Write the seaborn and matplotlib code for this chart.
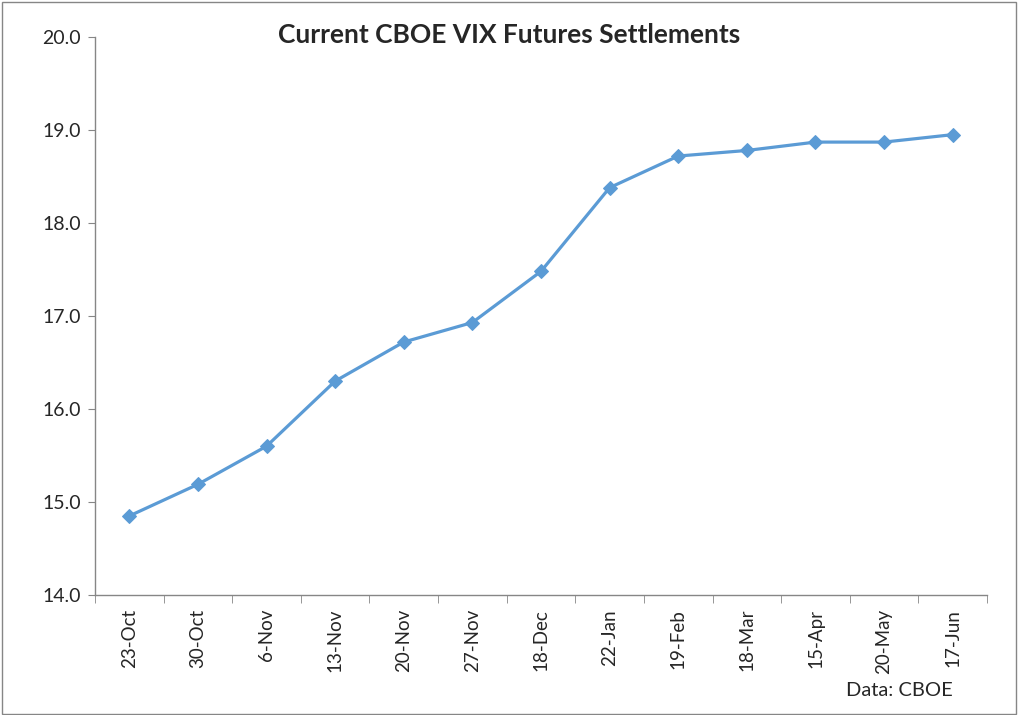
import numpy as np
import pandas as pd
import matplotlib
matplotlib.use("Agg")
import matplotlib.pyplot as plt
import seaborn as sns
from matplotlib.patches import Rectangle

# settlement per contract month
expiries = ['23-Oct', '30-Oct', '6-Nov', '13-Nov', '20-Nov', '27-Nov', '18-Dec',
            '22-Jan', '19-Feb', '18-Mar', '15-Apr', '20-May', '17-Jun']
settle = [14.85, 15.19, 15.60, 16.30, 16.72, 16.93, 17.48,
          18.38, 18.72, 18.78, 18.87, 18.87, 18.95]

sns.set_style('white')
plt.rcParams['font.family'] = ['Lato', 'DejaVu Sans']

df = pd.DataFrame({'Expiry': expiries, 'Settle': settle})

fig = plt.figure(figsize=(10.19, 7.15), dpi=100)
ax = fig.add_axes([95 / 1019, 1 - 595 / 715, 892 / 1019, 558 / 715])

sns.lineplot(x='Expiry', y='Settle', data=df, sort=False, ax=ax,
             color='#5B9BD5', linewidth=2.3, marker='D', markersize=7,
             markeredgecolor='#5B9BD5')

ax.set_xlim(-0.5, len(expiries) - 0.5)
ax.set_ylim(14, 20)
ax.set_yticks(np.arange(14, 20.1, 1))
ax.set_yticklabels([f'{v:.1f}' for v in np.arange(14, 20.1, 1)], fontsize=14)
ax.set_xticks(range(len(expiries)))
ax.set_xticklabels(expiries, rotation=90, fontsize=13.5)
ax.set_xticks(np.arange(-0.5, len(expiries), 1), minor=True)
ax.tick_params(axis='x', which='major', length=0, pad=10)
ax.tick_params(axis='x', which='minor', length=6, color='#868686', direction='out', bottom=True)
ax.tick_params(axis='y', length=5, color='#868686', direction='out', left=True, pad=5)
ax.set_xlabel('')
ax.set_ylabel('')

for s in ['top', 'right']:
    ax.spines[s].set_visible(False)
for s in ['left', 'bottom']:
    ax.spines[s].set_color('#868686')
    ax.spines[s].set_linewidth(1)

fig.text(0.5, 1 - 35 / 715, 'Current CBOE VIX Futures Settlements', ha='center', va='center',
         fontsize=19, fontweight='bold')
fig.text(953 / 1019, 1 - 690 / 715, 'Data: CBOE', ha='right', va='center', fontsize=14.5)

fig.patches.append(Rectangle((0.002, 0.002), 0.995, 0.995, transform=fig.transFigure,
                             fill=False, edgecolor='#868686', linewidth=1))

fig.savefig('out.png', dpi=100)
